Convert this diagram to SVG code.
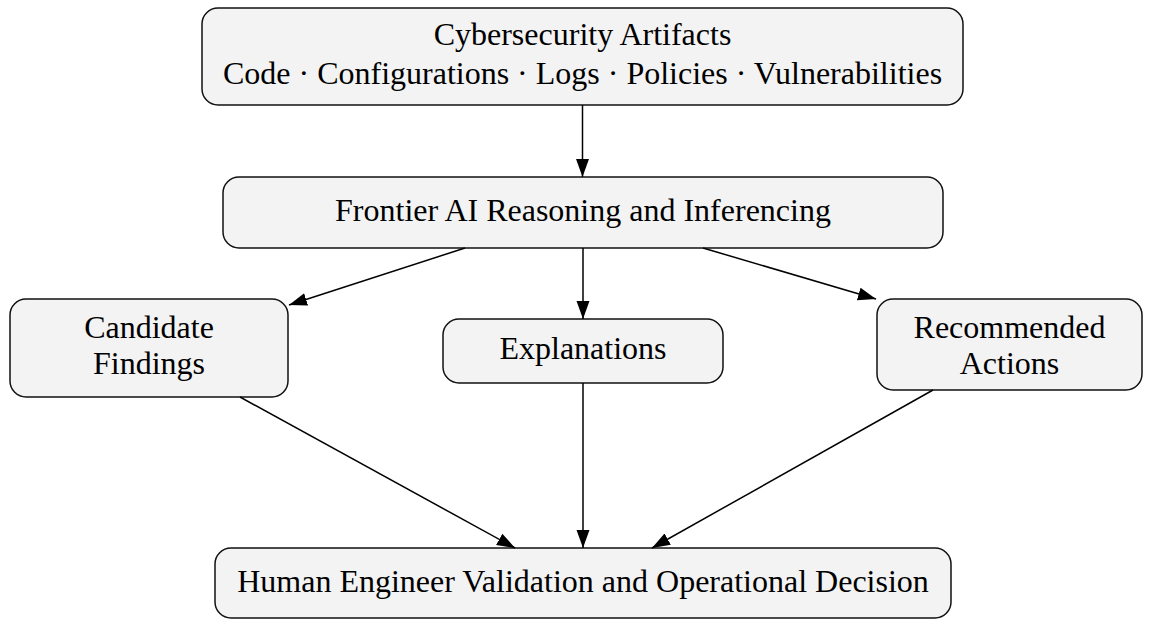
<svg xmlns="http://www.w3.org/2000/svg" width="1152" height="620" viewBox="0 0 1152 620">
  <defs>
    <marker id="arrow" viewBox="0 0 10 10" refX="10" refY="5" markerWidth="18" markerHeight="18" markerUnits="userSpaceOnUse" orient="auto">
      <path d="M0,1.4 L10,5 L0,8.6 Z" fill="#000"/>
    </marker>
    <style>
      .box { fill: #f3f3f3; stroke: #111; stroke-width: 1.5; }
      .lbl { font-family: "Liberation Serif", "Times New Roman", serif; font-size: 32px; fill: #000; text-anchor: middle; }
      .edge { stroke: #000; stroke-width: 1.5; fill: none; marker-end: url(#arrow); }
    </style>
  </defs>
  <rect width="1152" height="620" fill="#fff"/>

  <g id="artifacts">
    <rect class="box" x="202" y="8" width="761" height="97" rx="16"/>
    <text class="lbl" x="582.5" y="45">Cybersecurity Artifacts</text>
    <text class="lbl" x="582.5" y="84">Code · Configurations · Logs · Policies · Vulnerabilities</text>
  </g>

  <g id="reasoning">
    <rect class="box" x="223" y="177" width="720" height="71" rx="16"/>
    <text class="lbl" x="583" y="221">Frontier AI Reasoning and Inferencing</text>
  </g>

  <g id="findings">
    <rect class="box" x="10" y="299" width="278" height="98" rx="16"/>
    <text class="lbl" x="149" y="338">Candidate</text>
    <text class="lbl" x="149" y="374">Findings</text>
  </g>

  <g id="explanations">
    <rect class="box" x="443" y="319" width="280" height="64" rx="16"/>
    <text class="lbl" x="583" y="359">Explanations</text>
  </g>

  <g id="actions">
    <rect class="box" x="877" y="299" width="265" height="91" rx="16"/>
    <text class="lbl" x="1009.5" y="338">Recommended</text>
    <text class="lbl" x="1009.5" y="374">Actions</text>
  </g>

  <g id="decision">
    <rect class="box" x="215" y="548" width="736" height="70" rx="16"/>
    <text class="lbl" x="583" y="592">Human Engineer Validation and Operational Decision</text>
  </g>

  <g id="connectors">
    <line class="edge" x1="582.5" y1="105" x2="582.5" y2="177"/>
    <line class="edge" x1="465" y1="248" x2="289" y2="305"/>
    <line class="edge" x1="583" y1="248" x2="583" y2="319"/>
    <line class="edge" x1="703" y1="248" x2="876" y2="299"/>
    <line class="edge" x1="240" y1="397" x2="515" y2="548"/>
    <line class="edge" x1="583" y1="383" x2="583" y2="548"/>
    <line class="edge" x1="933" y1="390" x2="652" y2="548"/>
  </g>
</svg>
